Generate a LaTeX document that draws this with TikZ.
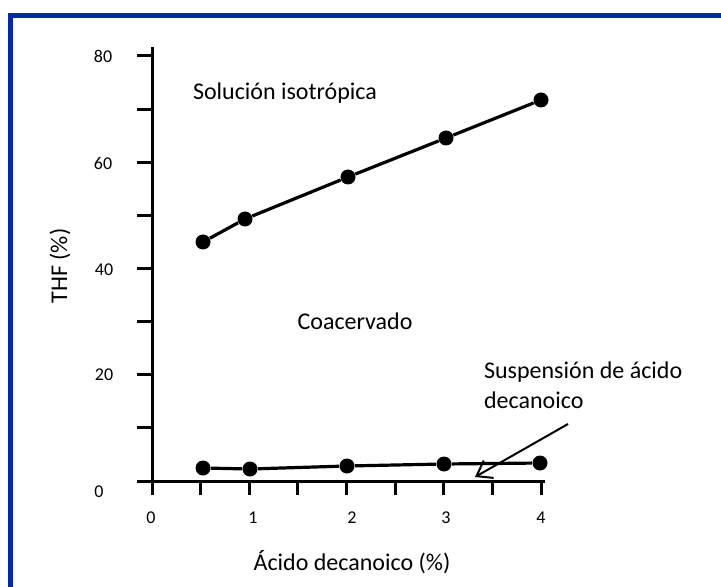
\documentclass[tikz,border=0pt]{standalone}
\usepackage{fontspec}
\setmainfont{Carlito}
\usetikzlibrary{arrows.meta}
\definecolor{frameblue}{RGB}{0,41,170}
\tikzset{
  axis/.style={line width=1.5pt},
  curve/.style={line width=1.6pt},
  dot/.style={circle,fill,inner sep=0pt,minimum size=7.5pt},
  ticklabel/.style={font=\fontsize{9}{10}\selectfont},
  region/.style={font=\fontsize{12}{15}\selectfont},
}
\begin{document}
\begin{tikzpicture}[x=0.5pt,y=-0.5pt]
  \useasboundingbox (0,0) rectangle (721,587);
  % frame
  \draw[frameblue,line width=2.5pt] (10.5,587) |- (721,15.5);
  % axes and ticks
  \draw[axis] (152,47) -- (152,495);
  \draw[axis] (137,481) -- (545,481);
  \foreach \k in {0,...,8} {
    \draw[axis] (137,56+53.125*\k) -- (152,56+53.125*\k);
    \draw[axis] (152+48.65*\k,481) -- (152+48.65*\k,495);
  }
  \node[ticklabel] (y80) at (103,56) {80};
  \node[ticklabel] (y60) at (103,163) {60};
  \node[ticklabel] (y40) at (104,270) {40};
  \node[ticklabel] (y20) at (104,375) {20};
  \node[ticklabel] (y0) at (99,492) {0};
  \foreach \v/\x in {0/151,1/253,2/352,3/446,4/541}
    \node[ticklabel] (x\v) at (\x,518) {\v};
  \node[region,rotate=90] (ytitle) at (60,266) {THF (\%)};
  \node[region] (xtitle) at (352,562) {Ácido decanoico (\%)};
  % upper boundary
  \foreach \n/\x/\y in {1/203/242,2/245/219,3/348/177,4/446/138,5/541/100}
    \node[dot] (u\n) at (\x,\y) {};
  \draw[curve] (u1) -- (u2) -- (u3) -- (u4) -- (u5);
  % lower boundary
  \foreach \n/\x/\y in {1/203/468,2/250/469,3/347/466,4/444/464,5/540/463}
    \node[dot] (l\n) at (\x,\y) {};
  \draw[curve] (l1) -- (l2) -- (l3) -- (l4) -- (l5);
  % regions
  \node[region] (iso) at (285,93) {Solución isotrópica};
  \node[region] (coac) at (355,321) {Coacervado};
  \node[region,anchor=west,align=left] (susp) at (477,385) {Suspensión de ácido\\decanoico};
  \coordinate (tail) at (568,424);
  \coordinate (tip) at (475,477);
  \draw[line width=1pt,-{Straight Barb[length=7pt,width=10pt]}] (tail) -- (tip);
\end{tikzpicture}
\end{document}
